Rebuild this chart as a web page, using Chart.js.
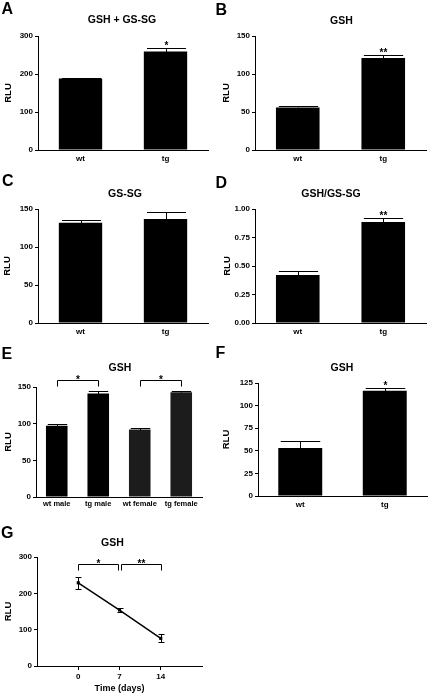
<!DOCTYPE html>
<html><head><meta charset="utf-8">
<script src="https://cdn.jsdelivr.net/npm/chart.js@4.4.1/dist/chart.umd.min.js"></script>
<style>
html,body{margin:0;padding:0;background:#fff;}
#fig{position:relative;width:428px;height:694px;overflow:hidden;font-family:"Liberation Sans",Arial,sans-serif;}
canvas{position:absolute;}
.lab{position:absolute;font-weight:bold;font-size:16px;line-height:16px;color:#000;}
.ttl{position:absolute;font-weight:bold;font-size:10.5px;line-height:10.5px;color:#000;white-space:nowrap;transform:translateX(-50%);}
</style></head><body><div id="fig"></div>
<script>
// ---------- data ----------
const catsWtTg = ['wt', 'tg'];
const totalGsh = [188, 259];      const totalGshErr = [2, 10];       const totalGshSig = ['', '*'];
const gshB = [56, 121];           const gshBErr = [2.5, 3.5];        const gshBSig = ['', '**'];
const gssg = [132, 137];          const gssgErr = [4, 8.5];          const gssgSig = ['', ''];
const ratio = [0.42, 0.885];      const ratioErr = [0.038, 0.033];   const ratioSig = ['', '**'];
const catsSex = ['wt male', 'tg male', 'wt female', 'tg female'];
const gshSex = [97, 141, 92, 143]; const gshSexErr = [3, 4, 1.5, 2];
const bracketsSex = [[0, 1, '*'], [2, 3, '*']];
const gshF = [53, 116.5];         const gshFErr = [8, 2.5];          const gshFSig = ['', '*'];
const days = [0, 7, 14];
const gshTime = [229, 154, 76];   const gshTimeErr = [16, 5, 11];
const bracketsTime = [[0, 6.7, '*'], [7.3, 14, '**']];
const dayTicks = [0, 7, 14];

// ---------- helpers ----------
const FONT = '"Liberation Sans", Arial, sans-serif';
const fig = document.getElementById('fig');

const annot = {
  id: 'annot',
  afterDatasetsDraw(chart, args, o) {
    const ctx = chart.ctx, ys = chart.scales.y, meta = chart.getDatasetMeta(0);
    const d = chart.data.datasets[0].data;
    ctx.save();
    ctx.strokeStyle = '#000'; ctx.fillStyle = '#000'; ctx.lineWidth = 1;
    ctx.font = 'bold 10px ' + FONT; ctx.textAlign = 'center'; ctx.textBaseline = 'alphabetic';
    (o.err || []).forEach((e, i) => {
      const el = meta.data[i];
      const x = Math.round(el.x) + 0.5;
      const v = typeof d[i] === 'object' ? d[i].y : d[i];
      const yT = Math.round(ys.getPixelForValue(v + e)) + 0.5;
      const yB = Math.round(ys.getPixelForValue(o.both ? v - e : v)) + 0.5;
      const cw = o.capW || el.width * 0.9;
      ctx.beginPath();
      ctx.moveTo(x, yB); ctx.lineTo(x, yT);
      ctx.moveTo(x - cw / 2, yT); ctx.lineTo(x + cw / 2, yT);
      if (o.both) { ctx.moveTo(x - cw / 2, yB); ctx.lineTo(x + cw / 2, yB); }
      ctx.stroke();
      if (o.sig && o.sig[i]) ctx.fillText(o.sig[i], x, yT + 0.5);
    });
    (o.brackets || []).forEach(b => {
      let x1, x2;
      if (o.bracketCat) { x1 = meta.data[b[0]].x; x2 = meta.data[b[1]].x; }
      else { x1 = chart.scales.x.getPixelForValue(b[0]); x2 = chart.scales.x.getPixelForValue(b[1]); }
      x1 = Math.round(x1) + 0.5; x2 = Math.round(x2) + 0.5;
      const yt = Math.round(ys.getPixelForValue(o.bracketY)) + 0.5;
      const yd = Math.round(ys.getPixelForValue(o.bracketDrop)) + 0.5;
      ctx.beginPath(); ctx.moveTo(x1, yd); ctx.lineTo(x1, yt); ctx.lineTo(x2, yt); ctx.lineTo(x2, yd); ctx.stroke();
      ctx.fillText(b[2], (x1 + x2) / 2, yt + 2);
    });
    ctx.restore();
  }
};

function addText(cls, text, left, top) {
  const el = document.createElement('div');
  el.className = cls; el.textContent = text;
  el.style.left = left + 'px'; el.style.top = top + 'px';
  fig.appendChild(el);
}

function panel(cfg) {
  const [x0, y0, w, h] = cfg.box;
  const [l, t, r, b] = cfg.area;
  const c = document.createElement('canvas');
  c.width = w; c.height = h;
  c.style.left = x0 + 'px'; c.style.top = y0 + 'px';
  c.style.width = w + 'px'; c.style.height = h + 'px';
  fig.appendChild(c);
  const tickFont = { family: FONT, size: 8, weight: 'bold' };
  const yScale = {
    min: 0, max: cfg.ymax,
    ticks: { stepSize: cfg.step, color: '#000', font: tickFont, padding: 2,
             callback: cfg.fmt || (v => v) },
    grid: { display: true, drawOnChartArea: false, drawTicks: true, tickLength: 3, color: '#000', lineWidth: 1 },
    border: { display: true, color: '#000', width: 1 },
    title: { display: true, text: 'RLU', color: '#000', font: { family: FONT, size: 9.5, weight: 'bold' },
             padding: { top: cfg.rluPad, bottom: 0 } },
    afterFit: s => { s.width = l - x0; }
  };
  let xScale, type, datasets;
  if (cfg.line) {
    type = 'line';
    xScale = {
      type: 'linear', min: -7, max: 21,
      afterBuildTicks: s => { s.ticks = cfg.xticks.map(v => ({ value: v })); },
      ticks: { color: '#000', font: tickFont, padding: cfg.xpad },
      grid: { display: true, drawOnChartArea: false, drawTicks: true, tickLength: 4, color: '#000', lineWidth: 1 },
      border: { display: true, color: '#000', width: 1 },
      title: { display: true, text: 'Time (days)', color: '#000', font: { family: FONT, size: 9, weight: 'bold' },
               padding: { top: 0, bottom: 0 } },
      afterFit: s => { s.height = y0 + h - b; }
    };
    datasets = [{
      data: cfg.xs.map((x, i) => ({ x: x, y: cfg.values[i] })),
      borderColor: '#000', borderWidth: 1.5, backgroundColor: '#000',
      pointRadius: 2.2, pointStyle: 'rect', pointBackgroundColor: '#000', pointBorderWidth: 0, tension: 0
    }];
  } else {
    type = 'bar';
    xScale = {
      type: 'category',
      ticks: { color: '#000', font: cfg.xfont || tickFont, padding: cfg.xpad, maxRotation: 0, autoSkip: false },
      grid: { display: false, drawTicks: false },
      border: { display: true, color: '#000', width: 1 },
      afterFit: s => { s.height = y0 + h - b; }
    };
    datasets = [{
      data: cfg.values, backgroundColor: cfg.colors || '#000', borderWidth: 0,
      barPercentage: cfg.barPct, categoryPercentage: 1
    }];
  }
  new Chart(c, {
    type: type,
    data: { labels: cfg.labels, datasets: datasets },
    options: {
      responsive: false, animation: false, devicePixelRatio: 1, events: [],
      layout: { padding: { left: 0, top: t - y0, right: x0 + w - r, bottom: 0 } },
      scales: { x: xScale, y: yScale },
      plugins: { legend: { display: false }, tooltip: { enabled: false }, title: { display: false },
                 annot: cfg.annot }
    },
    plugins: [annot]
  });
  addText('lab', cfg.letter, cfg.letterPos[0], cfg.letterPos[1]);
  addText('ttl', cfg.title, cfg.titlePos[0], cfg.titlePos[1] - 5.1);
}

Chart.defaults.font.family = FONT;

panel({ letter: 'A', letterPos: [1.5, 1.2], title: 'GSH + GS-SG', titlePos: [122, 19.5],
  box: [0, 0, 214, 170], area: [38, 36, 208, 150], ymax: 300, step: 100, rluPad: 3.1, xpad: 3.5,
  labels: catsWtTg, values: totalGsh, barPct: 0.51,
  annot: { err: totalGshErr, sig: totalGshSig } });

panel({ letter: 'B', letterPos: [215.5, 1.8], title: 'GSH', titlePos: [341.5, 19.7],
  box: [214, 0, 214, 170], area: [255, 36, 426, 150], ymax: 150, step: 50, rluPad: 6.3, xpad: 3.5,
  labels: catsWtTg, values: gshB, barPct: 0.51,
  annot: { err: gshBErr, sig: gshBSig } });

panel({ letter: 'C', letterPos: [2, 172.8], title: 'GS-SG', titlePos: [125, 193.3],
  box: [0, 170, 214, 170], area: [38, 209, 208, 323], ymax: 150, step: 50, rluPad: 1.9, xpad: 3.5,
  labels: catsWtTg, values: gssg, barPct: 0.51,
  annot: { err: gssgErr, sig: gssgSig } });

panel({ letter: 'D', letterPos: [215.5, 174.5], title: 'GSH/GS-SG', titlePos: [331, 193.3],
  box: [214, 170, 214, 170], area: [255, 209, 426, 323], ymax: 1, step: 0.25, rluPad: 7.3, xpad: 3.5,
  fmt: v => v.toFixed(2),
  labels: catsWtTg, values: ratio, barPct: 0.51,
  annot: { err: ratioErr, sig: ratioSig } });

panel({ letter: 'E', letterPos: [1.5, 346.1], title: 'GSH', titlePos: [120, 366.7],
  box: [0, 340, 214, 170], area: [36, 387, 202, 497], ymax: 150, step: 50, rluPad: 2.9, xpad: 2.5,
  xfont: { family: FONT, size: 7.5, weight: 'bold' },
  labels: catsSex, values: gshSex, barPct: 0.52, colors: ['#000', '#000', '#1c1c1c', '#1c1c1c'],
  annot: { err: gshSexErr, brackets: bracketsSex, bracketCat: true, bracketY: 159, bracketDrop: 152 } });

panel({ letter: 'F', letterPos: [215.5, 344.5], title: 'GSH', titlePos: [342, 366.7],
  box: [214, 340, 214, 170], area: [258, 383, 427, 496], ymax: 125, step: 25, rluPad: 6.3, xpad: 3.5,
  labels: catsWtTg, values: gshF, barPct: 0.52,
  annot: { err: gshFErr, sig: gshFSig } });

panel({ letter: 'G', letterPos: [1, 524.5], title: 'GSH', titlePos: [112.5, 541.7],
  box: [0, 510, 214, 184], area: [37, 557, 202, 666], ymax: 300, step: 100, rluPad: 2.9, xpad: 1.5,
  line: true, xs: days, values: gshTime, xticks: dayTicks,
  annot: { err: gshTimeErr, both: true, capW: 6, brackets: bracketsTime, bracketY: 282, bracketDrop: 264 } });
</script>
</body></html>
